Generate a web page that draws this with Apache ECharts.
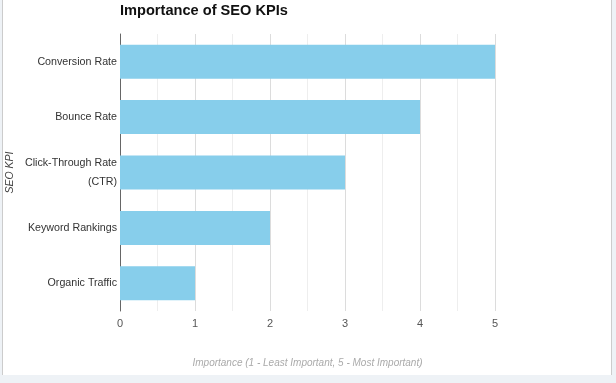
<!DOCTYPE html>
<html><head><meta charset="utf-8">
<script src="https://cdn.jsdelivr.net/npm/echarts@6/dist/echarts.min.js"></script>
<style>
html,body{margin:0;padding:0;background:#eef2f6;width:616px;height:383px;overflow:hidden;}
#wrap{position:absolute;left:2px;top:0;width:608px;height:375px;background:#fff;border-left:1px solid #ccc;border-right:1px solid #ccc;}
#c{position:absolute;left:-3px;top:0;width:616px;height:375px;}
</style></head><body>
<div id="wrap"><div id="c"></div></div>
<script>
const categories = ['Conversion Rate', 'Bounce Rate', 'Click-Through Rate (CTR)', 'Keyword Rankings', 'Organic Traffic'];
const importance = [5, 4, 3, 2, 1];
const titleText = 'Importance of SEO KPIs';
const xName = 'Importance (1 - Least Important, 5 - Most Important)';
const yName = 'SEO KPI';

const chart = echarts.init(document.getElementById('c'), null, {renderer:'canvas'});
chart.setOption({
  animation:false,
  title:{text:titleText,left:120,top:0,padding:[3,0,0,0],textStyle:{fontFamily:'Liberation Sans, Arial',fontSize:14.6,fontWeight:'bold',color:'#111'}},
  grid:{left:120,right:121,top:34,bottom:64,containLabel:false,outerBoundsMode:'none'},
  xAxis:{type:'value',min:0,max:5,interval:0.5,
    name:xName,nameLocation:'middle',nameGap:47,nameMoveOverlap:false,
    nameTextStyle:{fontFamily:'Liberation Sans, Arial',fontSize:10,fontStyle:'italic',color:'#aaa'},
    axisLine:{show:false},axisTick:{show:false},
    axisLabel:{fontFamily:'Liberation Sans, Arial',fontSize:11,color:'#555',margin:7,
      formatter:v=>Number.isInteger(v)?String(v):''},
    splitLine:{show:true,lineStyle:{color:['#dcdcdc','#eeeeee'],width:1}}
  },
  yAxis:{type:'category',data:categories,inverse:true,
    name:yName,nameLocation:'middle',nameGap:104,nameRotate:90,nameMoveOverlap:false,
    nameTextStyle:{fontFamily:'Liberation Sans, Arial',fontSize:10.5,fontStyle:'italic',color:'#444'},
    axisLine:{show:true,lineStyle:{color:'#666',width:1}},axisTick:{show:false},
    axisLabel:{fontFamily:'Liberation Sans, Arial',fontSize:10.7,color:'#333',margin:3,lineHeight:19,
      formatter:v=>v.replace(' (', '\n(')}
  },
  series:[{type:'bar',data:importance,barWidth:34,
    itemStyle:{color:'#87CEEB'}}]
});
</script>
</body></html>
